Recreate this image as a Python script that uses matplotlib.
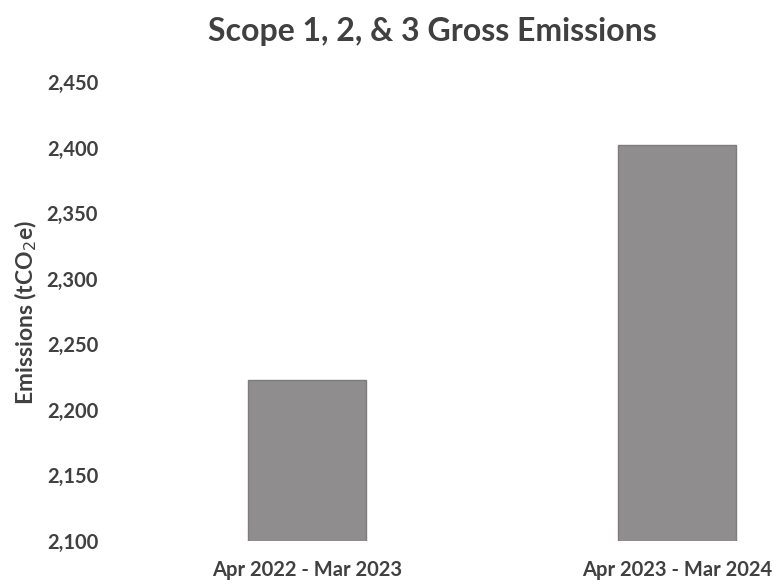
import matplotlib
matplotlib.use("Agg")
import matplotlib.pyplot as plt
from matplotlib.ticker import StrMethodFormatter

plt.rcParams['font.family'] = ['Lato', 'DejaVu Sans']

periods = ["Apr 2022 - Mar 2023", "Apr 2023 - Mar 2024"]
emissions = [2223, 2402]
y_ticks = [2100, 2150, 2200, 2250, 2300, 2350, 2400, 2450]

text_color = "#404040"
bar_color = "#8f8d8d"

fig = plt.figure(figsize=(7.79, 5.87), dpi=100)
ax = fig.add_axes([105 / 779, 1 - 541 / 587, 674 / 779, 459 / 587])

x = list(range(len(periods)))
ax.bar(x, emissions, width=0.32, color=bar_color, edgecolor="#7e7c7c", linewidth=1.0)

ax.set_xlim(-202 / 370, 1 + 102 / 370)
ax.set_ylim(y_ticks[0], y_ticks[-1])
ax.set_yticks(y_ticks)
ax.yaxis.set_major_formatter(StrMethodFormatter("{x:,.0f}"))
ax.set_xticks(x)
ax.set_xticklabels(periods)

for s in ax.spines.values():
    s.set_visible(False)
ax.tick_params(axis="both", length=0, colors=text_color)
ax.tick_params(axis="y", pad=5, labelsize=14.5)
ax.tick_params(axis="x", pad=14, labelsize=14.5)
for lbl in ax.get_xticklabels() + ax.get_yticklabels():
    lbl.set_fontweight("bold")

ax.set_ylabel("Emissions (tCO$_2$e)", fontsize=16.5, color=text_color,
              fontweight="bold")
ax.yaxis.set_label_coords(-66 / 674, (541 - 313) / 459)

fig.text(432 / 779, 1 - 32 / 587, "Scope 1, 2, & 3 Gross Emissions",
         ha="center", va="center", fontsize=23, color=text_color,
         fontweight="bold")

fig.savefig("out.png", dpi=100)
